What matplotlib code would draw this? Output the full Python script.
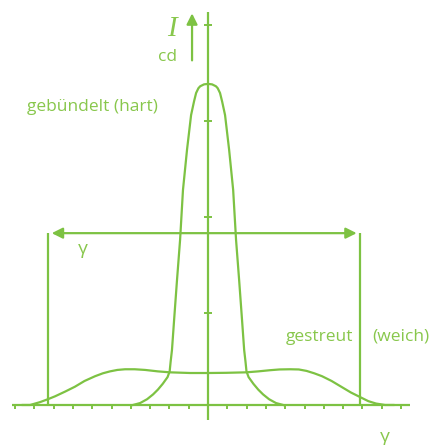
import matplotlib
matplotlib.use("Agg")
import matplotlib.pyplot as plt

# colours
green = "#7dc243"
text_green = "#88c74c"

# narrow beam (gebündelt) - x in tick units, y in axis units
narrow_x = [-3.89, -3.52, -3.16, -2.85, -2.60, -2.35, -2.10, -1.99, -1.94, -1.87, -1.76,
            -1.61, -1.45, -1.30, -1.09, -0.88, -0.73, -0.62, -0.50, -0.41, -0.21, 0.0,
            0.21, 0.41, 0.50, 0.62, 0.73, 0.88, 1.09, 1.30, 1.45, 1.61, 1.76, 1.87, 1.94,
            1.99, 2.10, 2.35, 2.60, 2.85, 3.16, 3.52, 3.89]
narrow_y = [0.0, 0.02, 0.06, 0.11, 0.16, 0.22, 0.29, 0.35, 0.45, 0.573, 0.885,
            1.30, 1.72, 2.24, 2.66, 3.02, 3.16, 3.25, 3.30, 3.32, 3.34, 3.345,
            3.34, 3.32, 3.30, 3.25, 3.16, 3.02, 2.66, 2.24, 1.72, 1.30, 0.885, 0.573, 0.45,
            0.35, 0.29, 0.22, 0.16, 0.11, 0.06, 0.02, 0.0]

# wide beam (gestreut)
wide_x = [-9.6, -9.22, -8.7, -8.3, -7.93, -7.4, -6.9, -6.4, -5.85, -5.45, -5.08, -4.7, -4.3,
          -3.8, -3.26, -2.6, -1.97, -0.93, 0.0, 0.93, 1.97, 2.6, 3.2, 3.7, 4.25, 4.7,
          5.1, 5.5, 5.9, 6.4, 6.9, 7.4, 7.9, 8.3, 8.7, 9.17, 9.6]
wide_y = [0.0, 0.0, 0.03, 0.06, 0.09, 0.14, 0.19, 0.25, 0.30, 0.33, 0.35, 0.365, 0.372,
          0.372, 0.365, 0.35, 0.34, 0.333, 0.333, 0.335, 0.34, 0.35, 0.362, 0.37, 0.372, 0.37,
          0.355, 0.33, 0.30, 0.25, 0.19, 0.13, 0.08, 0.04, 0.015, 0.0, 0.0]

x_ticks = [k for k in range(-10, 11) if k != 0]
y_ticks = [0.96, 1.96, 2.96, 3.96]

fig = plt.figure(figsize=(4.31, 4.45), dpi=100)
ax = fig.add_axes([0, 0, 1, 1])
ax.set_xlim(-10.78, 11.55)
ax.set_ylim(-0.417, 4.219)
ax.axis("off")

lw = 1.6
# axes
ax.plot([-10.16, 10.47], [0, 0], color=green, lw=lw, solid_capstyle="butt")
ax.plot([0, 0], [-0.156, 4.09], color=green, lw=lw, solid_capstyle="butt")
for t in x_ticks:
    ax.plot([t, t], [0, -0.045], color=green, lw=1.4, solid_capstyle="butt")
for t in y_ticks:
    ax.plot([-0.19, 0.19], [t, t], color=green, lw=1.4, solid_capstyle="butt")

# curves
ax.plot(narrow_x, narrow_y, color=green, lw=lw)
ax.plot(wide_x, wide_y, color=green, lw=lw)

# beam angle markers
ax.plot([-8.29, -8.29], [0, 1.79], color=green, lw=lw, solid_capstyle="butt")
ax.plot([7.88, 7.88], [0, 1.79], color=green, lw=lw, solid_capstyle="butt")
ax.annotate("", xy=(-8.1, 1.79), xytext=(7.7, 1.79),
            arrowprops=dict(arrowstyle="<|-|>", color=green, lw=lw, mutation_scale=16,
                            shrinkA=0, shrinkB=0))
ax.annotate("", xy=(-0.83, 4.08), xytext=(-0.83, 3.59),
            arrowprops=dict(arrowstyle="-|>", color=green, lw=lw, mutation_scale=16,
                            shrinkA=0, shrinkB=0))

# labels
sans = "Open Sans"
ax.text(-1.85, 3.92, "I", color=text_green, fontsize=21, family="Liberation Serif",
        style="italic", ha="center", va="center")
ax.text(-2.1, 3.62, "cd", color=text_green, fontsize=12.5, family=sans, ha="center", va="center")
ax.text(-9.4, 3.10, "gebündelt (hart)", color=text_green, fontsize=12.5, family=sans,
        ha="left", va="center")
ax.text(7.52, 0.71, "gestreut", color=text_green, fontsize=12.5, family=sans,
        ha="right", va="center")
ax.text(8.5, 0.71, "(weich)", color=text_green, fontsize=12.5, family=sans,
        ha="left", va="center")
ax.text(-6.5, 1.62, "γ", color=text_green, fontsize=14, family=sans, ha="center", va="center")
ax.text(9.15, -0.33, "γ", color=text_green, fontsize=14, family=sans, ha="center", va="center")

fig.savefig("out.png", dpi=100)
